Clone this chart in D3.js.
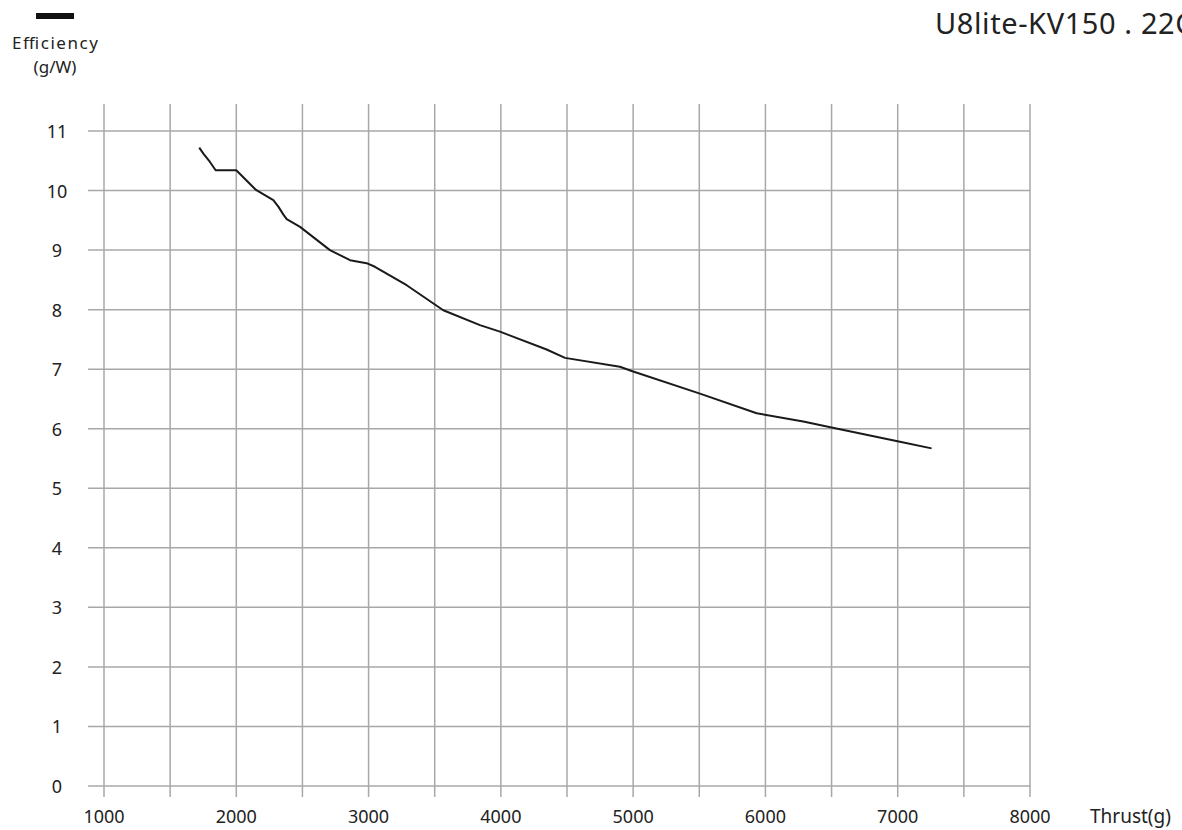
<!DOCTYPE html>
<html>
<head>
<meta charset="utf-8">
<script src="https://cdn.jsdelivr.net/npm/d3@7"></script>
<style>
    body { margin: 0; background: #fff; }
    text { font-family: "Noto Sans", "Open Sans", sans-serif; fill: #222; }
</style>
</head>
<body>
<script>
(function(){

    //chart data
    var thrust = [1720, 1751, 1801, 1844, 2000, 2149, 2280, 2318, 2355, 2381, 2482, 2708,
                  2860, 2985, 3048, 3288, 3565, 3842, 3993, 4346, 4485, 4900, 4989, 5505,
                  5934, 6286, 6500, 7017, 7256];
    var efficiency = [10.72, 10.62, 10.48, 10.34, 10.34, 10.01, 9.84, 9.73, 9.60, 9.52, 9.39, 9.00,
                      8.83, 8.78, 8.72, 8.41, 7.99, 7.74, 7.63, 7.33, 7.19, 7.04, 6.97, 6.59,
                      6.26, 6.12, 6.02, 5.78, 5.67];
    var xTicks = [1000, 1500, 2000, 2500, 3000, 3500, 4000, 4500, 5000, 5500, 6000, 6500, 7000, 7500, 8000];
    var xLabels = [1000, 2000, 3000, 4000, 5000, 6000, 7000, 8000];
    var yTicks = [0, 1, 2, 3, 4, 5, 6, 7, 8, 9, 10, 11];

    var width = 1182,
        height = 830;

    var svg = d3.select("body")
        .append("svg")
        .attr("width", width)
        .attr("height", height);

    var x = d3.scaleLinear().domain([1000, 8000]).range([104, 1030]);
    var y = d3.scaleLinear().domain([0, 11]).range([786, 131]);

    //vertical grid lines
    svg.selectAll(".vgrid")
        .data(xTicks)
        .enter()
        .append("line")
        .attr("x1", function(d){ return x(d); })
        .attr("x2", function(d){ return x(d); })
        .attr("y1", 104)
        .attr("y2", 797)
        .attr("stroke", "#a8a8a8")
        .attr("stroke-width", 1.5);

    //horizontal grid lines
    svg.selectAll(".hgrid")
        .data(yTicks)
        .enter()
        .append("line")
        .attr("x1", 88)
        .attr("x2", x(8000))
        .attr("y1", function(d){ return y(d); })
        .attr("y2", function(d){ return y(d); })
        .attr("stroke", "#a8a8a8")
        .attr("stroke-width", 1.5);

    //y tick labels
    svg.selectAll(".ylab")
        .data(yTicks)
        .enter()
        .append("text")
        .attr("x", 57)
        .attr("y", function(d){ return y(d) + 7; })
        .attr("text-anchor", "middle")
        .style("font-size", "18px")
        .text(function(d){ return d; });

    //x tick labels
    svg.selectAll(".xlab")
        .data(xLabels)
        .enter()
        .append("text")
        .attr("x", function(d){ return x(d); })
        .attr("y", 823)
        .attr("text-anchor", "middle")
        .style("font-size", "18px")
        .text(function(d){ return d; });

    svg.append("text")
        .attr("x", 1090)
        .attr("y", 823)
        .style("font-size", "19px")
        .text("Thrust(g)");

    //legend
    svg.append("rect")
        .attr("x", 36)
        .attr("y", 13)
        .attr("width", 38)
        .attr("height", 6)
        .attr("fill", "#111");

    svg.append("text")
        .attr("x", 55)
        .attr("y", 49)
        .attr("text-anchor", "middle")
        .style("font-size", "17px")
        .attr("textLength", 86)
        .text("Efficiency");

    svg.append("text")
        .attr("x", 55)
        .attr("y", 73)
        .attr("text-anchor", "middle")
        .style("font-size", "17px")
        .text("(g/W)");

    //title, cut off at the right edge as in the reference
    svg.append("text")
        .attr("x", 935)
        .attr("y", 34)
        .style("font-size", "29px")
        .style("letter-spacing", "0.6px")
        .text("U8lite-KV150 . 22C");

    //efficiency curve
    var pts = thrust.map(function(t, i){ return [t, efficiency[i]]; });
    var line = d3.line()
        .x(function(d){ return x(d[0]); })
        .y(function(d){ return y(d[1]); });

    svg.append("path")
        .datum(pts)
        .attr("d", line)
        .attr("fill", "none")
        .attr("stroke", "#1a1a1a")
        .attr("stroke-width", 2)
        .attr("stroke-linejoin", "round");

})();
</script>
</body>
</html>
